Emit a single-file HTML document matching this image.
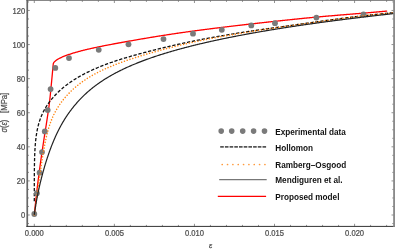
<!DOCTYPE html>
<html><head><meta charset="utf-8"><title>plot</title>
<style>
html,body{margin:0;padding:0;background:#fff;}
body{width:395px;height:250px;overflow:hidden;}
svg{display:block;will-change:transform;font-family:"Liberation Sans",sans-serif;}
.tl text{font-size:8.2px;fill:#505050;stroke:#505050;stroke-width:0.25px;}
.lg text{font-size:8.2px;font-weight:bold;fill:#111;}
</style></head><body>
<svg width="395" height="250" viewBox="0 0 395 250">
<rect width="395" height="250" fill="#fff"/>
<defs><clipPath id="c"><rect x="27.2" y="0.4" width="367.0" height="226.0"/></clipPath></defs>
<g clip-path="url(#c)" fill="none" stroke-linejoin="round">
<path d="M34.30,214.81 L34.37,214.12 L34.44,213.42 L34.51,212.72 L34.58,212.02 L34.65,211.33 L34.72,210.63 L34.79,209.93 L34.86,209.24 L34.93,208.54 L35.00,207.84 L35.08,207.15 L35.15,206.45 L35.22,205.75 L35.30,205.05 L35.37,204.36 L35.44,203.66 L35.52,202.97 L35.60,202.27 L35.67,201.57 L35.75,200.88 L35.82,200.18 L35.90,199.48 L35.98,198.79 L36.05,198.09 L36.13,197.39 L36.21,196.70 L36.29,196.00 L36.37,195.31 L36.45,194.61 L36.52,193.91 L36.60,193.22 L36.68,192.52 L36.76,191.82 L36.84,191.13 L36.93,190.43 L37.01,189.74 L37.09,189.04 L37.17,188.35 L37.26,187.65 L37.34,186.95 L37.42,186.26 L37.51,185.56 L37.59,184.87 L37.68,184.17 L37.76,183.48 L37.85,182.78 L37.94,182.09 L38.02,181.39 L38.11,180.70 L38.20,180.00 L38.29,179.31 L38.38,178.61 L38.47,177.92 L38.55,177.22 L38.64,176.53 L38.73,175.83 L38.82,175.14 L38.91,174.44 L39.00,173.75 L39.10,173.05 L39.19,172.36 L39.28,171.66 L39.37,170.97 L39.46,170.28 L39.56,169.58 L39.65,168.89 L39.74,168.19 L39.84,167.50 L39.93,166.80 L40.03,166.11 L40.12,165.42 L40.22,164.72 L40.31,164.03 L40.41,163.33 L40.51,162.64 L40.60,161.95 L40.70,161.25 L40.80,160.56 L40.90,159.86 L40.99,159.17 L41.09,158.48 L41.19,157.78 L41.29,157.09 L41.39,156.40 L41.49,155.70 L41.59,155.01 L41.69,154.32 L41.79,153.62 L41.89,152.93 L41.99,152.24 L42.10,151.54 L42.20,150.85 L42.30,150.16 L42.41,149.47 L42.51,148.77 L42.61,148.08 L42.72,147.39 L42.82,146.69 L42.93,146.00 L43.03,145.31 L43.14,144.62 L43.24,143.92 L43.35,143.23 L43.46,142.54 L43.56,141.85 L43.67,141.15 L43.77,140.46 L43.88,139.77 L43.99,139.08 L44.09,138.38 L44.20,137.69 L44.31,137.00 L44.41,136.31 L44.52,135.61 L44.63,134.92 L44.74,134.23 L44.85,133.54 L44.96,132.85 L45.07,132.15 L45.18,131.46 L45.29,130.77 L45.40,130.08 L45.51,129.39 L45.62,128.69 L45.73,128.00 L45.84,127.31 L45.95,126.62 L46.06,125.93 L46.17,125.23 L46.28,124.54 L46.38,123.85 L46.49,123.16 L46.60,122.47 L46.70,121.77 L46.81,121.08 L46.91,120.39 L47.02,119.69 L47.12,119.00 L47.23,118.31 L47.33,117.62 L47.44,116.92 L47.54,116.23 L47.65,115.54 L47.75,114.85 L47.86,114.15 L47.96,113.46 L48.07,112.77 L48.17,112.08 L48.27,111.38 L48.37,110.69 L48.48,110.00 L48.58,109.30 L48.68,108.61 L48.77,107.92 L48.87,107.22 L48.96,106.53 L49.06,105.83 L49.15,105.14 L49.24,104.44 L49.33,103.75 L49.41,103.05 L49.50,102.36 L49.58,101.66 L49.66,100.97 L49.74,100.27 L49.82,99.57 L49.89,98.88 L49.97,98.18 L50.04,97.48 L50.12,96.79 L50.19,96.09 L50.26,95.39 L50.33,94.70 L50.40,94.00 L50.47,93.30 L50.53,92.60 L50.60,91.91 L50.67,91.21 L50.74,90.51 L50.80,89.82 L50.87,89.12 L50.94,88.42 L51.00,87.72 L51.07,87.03 L51.14,86.33 L51.21,85.63 L51.27,84.93 L51.34,84.24 L51.41,83.54 L51.48,82.84 L51.54,82.14 L51.61,81.45 L51.68,80.75 L51.75,80.05 L51.81,79.36 L51.88,78.66 L51.95,77.96 L52.01,77.26 L52.08,76.57 L52.14,75.87 L52.21,75.17 L52.28,74.47 L52.34,73.78 L52.41,73.08 L52.47,72.38 L52.53,71.68 L52.60,70.98 L52.66,70.29 L52.73,69.59 L52.79,68.89 L52.86,68.19 L52.92,67.50 L52.99,66.80 L53.05,66.10 L53.12,65.40 L53.18,64.71 L53.25,64.01 L53.41,63.33 L53.73,62.71 L54.14,62.14 L54.61,61.63 L55.13,61.15 L55.67,60.70 L56.23,60.28 L56.80,59.89 L57.40,59.51 L58.00,59.15 L58.61,58.80 L59.22,58.47 L59.85,58.15 L60.48,57.84 L61.11,57.54 L61.75,57.25 L62.39,56.97 L63.03,56.69 L63.68,56.43 L64.33,56.16 L64.98,55.91 L65.63,55.66 L66.29,55.41 L66.95,55.17 L67.61,54.94 L68.27,54.71 L68.93,54.48 L69.60,54.26 L70.26,54.04 L70.93,53.82 L71.60,53.61 L72.26,53.40 L72.93,53.19 L73.60,52.99 L74.28,52.79 L74.95,52.59 L75.62,52.40 L76.29,52.20 L76.97,52.01 L77.64,51.83 L78.32,51.64 L79.00,51.46 L79.67,51.28 L80.35,51.10 L81.03,50.92 L81.71,50.74 L82.38,50.57 L83.06,50.40 L83.74,50.23 L84.42,50.06 L85.10,49.89 L85.79,49.73 L86.47,49.57 L87.15,49.40 L87.83,49.24 L88.51,49.08 L89.20,48.93 L89.88,48.77 L90.56,48.62 L91.24,48.46 L91.93,48.31 L92.61,48.16 L93.30,48.01 L93.98,47.86 L94.67,47.71 L95.35,47.56 L96.04,47.42 L96.72,47.27 L97.41,47.13 L98.09,46.98 L98.78,46.84 L99.46,46.70 L100.15,46.56 L100.84,46.42 L101.52,46.28 L102.21,46.14 L102.90,46.00 L103.58,45.87 L104.27,45.73 L104.96,45.59 L105.65,45.46 L106.33,45.32 L107.02,45.19 L107.71,45.06 L108.40,44.93 L109.09,44.79 L109.77,44.66 L110.46,44.53 L111.15,44.40 L111.84,44.27 L112.53,44.14 L113.22,44.01 L113.90,43.88 L114.59,43.75 L115.28,43.63 L115.97,43.50 L116.66,43.37 L117.35,43.24 L118.04,43.12 L118.73,42.99 L119.42,42.87 L120.11,42.74 L120.79,42.61 L121.48,42.49 L122.17,42.37 L122.86,42.24 L123.55,42.12 L124.24,41.99 L124.93,41.87 L125.62,41.75 L126.31,41.62 L127.00,41.50 L127.69,41.38 L128.38,41.26 L129.07,41.13 L129.76,41.01 L130.45,40.89 L131.14,40.77 L131.83,40.65 L132.52,40.53 L133.21,40.41 L133.90,40.29 L134.59,40.16 L135.28,40.04 L135.97,39.93 L136.66,39.81 L137.35,39.69 L138.04,39.57 L138.73,39.45 L139.42,39.33 L140.11,39.21 L140.80,39.09 L141.49,38.97 L142.19,38.86 L142.88,38.74 L143.57,38.62 L144.26,38.51 L144.95,38.39 L145.64,38.27 L146.33,38.16 L147.02,38.04 L147.71,37.92 L148.40,37.81 L149.09,37.69 L149.79,37.58 L150.48,37.47 L151.17,37.35 L151.86,37.24 L152.55,37.12 L153.24,37.01 L153.93,36.90 L154.62,36.78 L155.32,36.67 L156.01,36.56 L156.70,36.45 L157.39,36.34 L158.08,36.23 L158.77,36.12 L159.47,36.01 L160.16,35.90 L160.85,35.79 L161.54,35.68 L162.23,35.57 L162.93,35.46 L163.62,35.35 L164.31,35.24 L165.00,35.13 L165.70,35.03 L166.39,34.92 L167.08,34.81 L167.77,34.71 L168.47,34.60 L169.16,34.50 L169.85,34.39 L170.54,34.29 L171.24,34.18 L171.93,34.08 L172.62,33.97 L173.31,33.87 L174.01,33.77 L174.70,33.67 L175.39,33.56 L176.09,33.46 L176.78,33.36 L177.47,33.26 L178.17,33.16 L178.86,33.06 L179.55,32.96 L180.25,32.86 L180.94,32.76 L181.63,32.66 L182.33,32.56 L183.02,32.46 L183.71,32.36 L184.41,32.27 L185.10,32.17 L185.80,32.07 L186.49,31.97 L187.18,31.88 L187.88,31.78 L188.57,31.69 L189.27,31.59 L189.96,31.49 L190.65,31.40 L191.35,31.30 L192.04,31.21 L192.74,31.12 L193.43,31.02 L194.12,30.93 L194.82,30.83 L195.51,30.74 L196.21,30.65 L196.90,30.56 L197.60,30.46 L198.29,30.37 L198.99,30.28 L199.68,30.19 L200.38,30.10 L201.07,30.01 L201.76,29.92 L202.46,29.83 L203.15,29.74 L203.85,29.65 L204.54,29.56 L205.24,29.47 L205.93,29.38 L206.63,29.29 L207.32,29.20 L208.02,29.11 L208.71,29.02 L209.41,28.93 L210.10,28.85 L210.80,28.76 L211.49,28.67 L212.19,28.58 L212.88,28.49 L213.58,28.41 L214.27,28.32 L214.97,28.23 L215.66,28.15 L216.36,28.06 L217.05,27.98 L217.75,27.89 L218.45,27.80 L219.14,27.72 L219.84,27.63 L220.53,27.55 L221.23,27.46 L221.92,27.38 L222.62,27.29 L223.31,27.21 L224.01,27.12 L224.70,27.04 L225.40,26.96 L226.10,26.87 L226.79,26.79 L227.49,26.70 L228.18,26.62 L228.88,26.54 L229.57,26.45 L230.27,26.37 L230.96,26.29 L231.66,26.21 L232.36,26.12 L233.05,26.04 L233.75,25.96 L234.44,25.88 L235.14,25.79 L235.83,25.71 L236.53,25.63 L237.23,25.55 L237.92,25.47 L238.62,25.39 L239.31,25.31 L240.01,25.23 L240.71,25.14 L241.40,25.06 L242.10,24.98 L242.79,24.90 L243.49,24.82 L244.19,24.74 L244.88,24.66 L245.58,24.58 L246.27,24.50 L246.97,24.42 L247.67,24.34 L248.36,24.26 L249.06,24.18 L249.75,24.11 L250.45,24.03 L251.15,23.95 L251.84,23.87 L252.54,23.79 L253.23,23.71 L253.93,23.63 L254.63,23.55 L255.32,23.48 L256.02,23.40 L256.72,23.32 L257.41,23.24 L258.11,23.16 L258.80,23.09 L259.50,23.01 L260.20,22.93 L260.89,22.86 L261.59,22.78 L262.29,22.70 L262.98,22.62 L263.68,22.55 L264.38,22.47 L265.07,22.39 L265.77,22.32 L266.46,22.24 L267.16,22.16 L267.86,22.09 L268.55,22.01 L269.25,21.94 L269.95,21.86 L270.64,21.79 L271.34,21.71 L272.04,21.63 L272.73,21.56 L273.43,21.48 L274.13,21.41 L274.82,21.33 L275.52,21.26 L276.22,21.18 L276.91,21.11 L277.61,21.03 L278.31,20.96 L279.00,20.88 L279.70,20.81 L280.39,20.74 L281.09,20.66 L281.79,20.59 L282.48,20.51 L283.18,20.44 L283.88,20.37 L284.58,20.29 L285.27,20.22 L285.97,20.15 L286.67,20.07 L287.36,20.00 L288.06,19.93 L288.76,19.85 L289.45,19.78 L290.15,19.71 L290.85,19.63 L291.54,19.56 L292.24,19.49 L292.94,19.42 L293.63,19.34 L294.33,19.27 L295.03,19.20 L295.72,19.13 L296.42,19.05 L297.12,18.98 L297.81,18.91 L298.51,18.84 L299.21,18.77 L299.90,18.69 L300.60,18.62 L301.30,18.55 L302.00,18.48 L302.69,18.41 L303.39,18.34 L304.09,18.27 L304.78,18.20 L305.48,18.13 L306.18,18.07 L306.88,18.00 L307.57,17.93 L308.27,17.86 L308.97,17.79 L309.67,17.73 L310.36,17.66 L311.06,17.59 L311.76,17.53 L312.46,17.46 L313.15,17.40 L313.85,17.33 L314.55,17.27 L315.25,17.20 L315.94,17.14 L316.64,17.08 L317.34,17.01 L318.04,16.95 L318.73,16.88 L319.43,16.82 L320.13,16.76 L320.83,16.70 L321.52,16.63 L322.22,16.57 L322.92,16.51 L323.62,16.45 L324.32,16.39 L325.01,16.33 L325.71,16.27 L326.41,16.21 L327.11,16.14 L327.81,16.08 L328.50,16.02 L329.20,15.96 L329.90,15.90 L330.60,15.84 L331.30,15.79 L331.99,15.73 L332.69,15.67 L333.39,15.61 L334.09,15.55 L334.79,15.49 L335.48,15.43 L336.18,15.37 L336.88,15.31 L337.58,15.26 L338.28,15.20 L338.98,15.14 L339.67,15.08 L340.37,15.02 L341.07,14.97 L341.77,14.91 L342.47,14.85 L343.16,14.79 L343.86,14.74 L344.56,14.68 L345.26,14.62 L345.96,14.56 L346.66,14.51 L347.35,14.45 L348.05,14.39 L348.75,14.33 L349.45,14.28 L350.15,14.22 L350.85,14.16 L351.54,14.11 L352.24,14.05 L352.94,13.99 L353.64,13.93 L354.34,13.88 L355.04,13.82 L355.73,13.76 L356.43,13.71 L357.13,13.65 L357.83,13.59 L358.53,13.53 L359.22,13.48 L359.92,13.42 L360.62,13.36 L361.32,13.30 L362.02,13.25 L362.72,13.19 L363.41,13.13 L364.11,13.07 L364.81,13.01 L365.51,12.96 L366.21,12.90 L366.90,12.84 L367.60,12.78 L368.30,12.72 L369.00,12.66 L369.70,12.61 L370.40,12.55 L371.09,12.49 L371.79,12.43 L372.49,12.37 L373.19,12.31 L373.89,12.25 L374.58,12.19 L375.28,12.13 L375.98,12.07 L376.68,12.01 L377.38,11.95 L378.07,11.89 L378.77,11.83 L379.47,11.77 L380.17,11.71 L380.87,11.65 L381.56,11.58 L382.26,11.52 L382.96,11.46 L383.66,11.40 L384.35,11.33 L385.05,11.27 L385.75,11.21 L386.45,11.15 L387.15,11.08" stroke="#f00" stroke-width="1.3"/>
<path d="M34.30,201.21 L34.30,200.51 L34.30,199.81 L34.30,199.11 L34.30,198.41 L34.30,197.71 L34.30,197.01 L34.30,196.30 L34.30,195.60 L34.30,194.90 L34.30,194.20 L34.30,193.50 L34.30,192.80 L34.30,192.10 L34.30,191.40 L34.30,190.70 L34.30,190.00 L34.30,189.30 L34.30,188.60 L34.30,187.90 L34.31,187.20 L34.31,186.50 L34.31,185.80 L34.31,185.10 L34.31,184.40 L34.31,183.69 L34.31,182.99 L34.31,182.29 L34.31,181.59 L34.32,180.89 L34.32,180.19 L34.32,179.49 L34.32,178.79 L34.33,178.09 L34.33,177.39 L34.33,176.69 L34.34,175.99 L34.34,175.29 L34.34,174.59 L34.35,173.89 L34.35,173.19 L34.36,172.49 L34.36,171.79 L34.37,171.09 L34.38,170.38 L34.38,169.68 L34.39,168.98 L34.40,168.28 L34.41,167.58 L34.42,166.88 L34.43,166.18 L34.44,165.48 L34.45,164.78 L34.46,164.08 L34.47,163.38 L34.49,162.68 L34.50,161.98 L34.52,161.28 L34.53,160.58 L34.55,159.88 L34.57,159.18 L34.59,158.48 L34.61,157.78 L34.63,157.08 L34.65,156.38 L34.68,155.68 L34.71,154.98 L34.73,154.28 L34.76,153.58 L34.79,152.88 L34.82,152.18 L34.86,151.48 L34.89,150.78 L34.93,150.08 L34.97,149.38 L35.01,148.68 L35.06,147.98 L35.10,147.28 L35.15,146.58 L35.20,145.88 L35.25,145.19 L35.31,144.49 L35.36,143.79 L35.43,143.09 L35.49,142.39 L35.56,141.70 L35.62,141.00 L35.70,140.30 L35.77,139.61 L35.85,138.91 L35.94,138.21 L36.02,137.52 L36.11,136.82 L36.21,136.13 L36.31,135.44 L36.41,134.74 L36.51,134.05 L36.63,133.36 L36.74,132.67 L36.86,131.98 L36.99,131.29 L37.12,130.60 L37.25,129.91 L37.39,129.23 L37.54,128.54 L37.69,127.86 L37.85,127.18 L38.01,126.49 L38.18,125.81 L38.35,125.14 L38.53,124.46 L38.72,123.78 L38.91,123.11 L39.11,122.44 L39.32,121.77 L39.53,121.10 L39.75,120.44 L39.98,119.77 L40.21,119.11 L40.45,118.45 L40.70,117.80 L40.95,117.15 L41.21,116.50 L41.48,115.85 L41.76,115.20 L42.04,114.56 L42.33,113.92 L42.62,113.29 L42.93,112.66 L43.23,112.03 L43.55,111.40 L43.87,110.78 L44.20,110.16 L44.54,109.55 L44.88,108.94 L45.23,108.33 L45.59,107.73 L45.95,107.13 L46.32,106.53 L46.70,105.94 L47.08,105.35 L47.46,104.77 L47.86,104.19 L48.26,103.62 L48.66,103.04 L49.07,102.48 L49.49,101.91 L49.91,101.35 L50.34,100.80 L50.77,100.25 L51.20,99.70 L51.65,99.15 L52.09,98.62 L52.55,98.08 L53.00,97.55 L53.46,97.02 L53.93,96.50 L54.40,95.98 L54.88,95.47 L55.36,94.96 L55.84,94.45 L56.33,93.95 L56.82,93.45 L57.32,92.95 L57.82,92.46 L58.32,91.98 L58.83,91.50 L59.34,91.02 L59.86,90.54 L60.38,90.07 L60.90,89.61 L61.43,89.14 L61.96,88.69 L62.49,88.23 L63.03,87.78 L63.57,87.34 L64.11,86.89 L64.66,86.46 L65.21,86.02 L65.76,85.59 L66.31,85.16 L66.87,84.74 L67.43,84.32 L68.00,83.90 L68.56,83.49 L69.13,83.08 L69.70,82.68 L70.28,82.28 L70.86,81.88 L71.44,81.49 L72.02,81.10 L72.60,80.71 L73.19,80.33 L73.78,79.95 L74.37,79.57 L74.96,79.20 L75.56,78.83 L76.15,78.46 L76.75,78.10 L77.35,77.74 L77.96,77.38 L78.56,77.03 L79.17,76.68 L79.78,76.33 L80.39,75.99 L81.00,75.65 L81.61,75.31 L82.23,74.98 L82.85,74.64 L83.46,74.32 L84.08,73.99 L84.71,73.67 L85.33,73.35 L85.95,73.03 L86.58,72.71 L87.21,72.40 L87.83,72.09 L88.46,71.79 L89.10,71.48 L89.73,71.18 L90.36,70.88 L91.00,70.59 L91.63,70.29 L92.27,70.00 L92.91,69.71 L93.55,69.43 L94.19,69.14 L94.83,68.86 L95.47,68.58 L96.11,68.30 L96.76,68.03 L97.40,67.76 L98.05,67.49 L98.70,67.22 L99.35,66.95 L99.99,66.69 L100.64,66.43 L101.30,66.17 L101.95,65.91 L102.60,65.65 L103.25,65.40 L103.91,65.15 L104.56,64.90 L105.22,64.65 L105.87,64.40 L106.53,64.16 L107.18,63.92 L107.84,63.68 L108.50,63.44 L109.16,63.20 L109.82,62.96 L110.48,62.73 L111.14,62.50 L111.80,62.27 L112.46,62.04 L113.13,61.81 L113.79,61.59 L114.45,61.36 L115.12,61.14 L115.78,60.92 L116.45,60.70 L117.11,60.48 L117.78,60.26 L118.45,60.05 L119.11,59.83 L119.78,59.62 L120.45,59.41 L121.12,59.20 L121.79,58.99 L122.45,58.78 L123.12,58.57 L123.79,58.37 L124.46,58.16 L125.13,57.96 L125.81,57.76 L126.48,57.56 L127.15,57.36 L127.82,57.16 L128.49,56.96 L129.16,56.76 L129.84,56.57 L130.51,56.37 L131.18,56.18 L131.86,55.99 L132.53,55.79 L133.20,55.60 L133.88,55.41 L134.55,55.22 L135.23,55.03 L135.90,54.84 L136.58,54.66 L137.25,54.47 L137.93,54.28 L138.60,54.10 L139.28,53.91 L139.95,53.73 L140.63,53.55 L141.31,53.37 L141.98,53.18 L142.66,53.00 L143.34,52.82 L144.01,52.64 L144.69,52.46 L145.37,52.28 L146.05,52.11 L146.72,51.93 L147.40,51.75 L148.08,51.57 L148.76,51.40 L149.44,51.22 L150.11,51.05 L150.79,50.87 L151.47,50.70 L152.15,50.53 L152.83,50.35 L153.51,50.18 L154.19,50.01 L154.87,49.84 L155.55,49.67 L156.23,49.50 L156.90,49.33 L157.58,49.16 L158.26,48.99 L158.94,48.82 L159.62,48.66 L160.31,48.49 L160.99,48.32 L161.67,48.16 L162.35,47.99 L163.03,47.83 L163.71,47.66 L164.39,47.50 L165.07,47.33 L165.75,47.17 L166.43,47.01 L167.12,46.85 L167.80,46.69 L168.48,46.53 L169.16,46.37 L169.84,46.21 L170.53,46.05 L171.21,45.89 L171.89,45.73 L172.57,45.57 L173.26,45.42 L173.94,45.26 L174.62,45.10 L175.30,44.95 L175.99,44.80 L176.67,44.64 L177.36,44.49 L178.04,44.34 L178.72,44.18 L179.41,44.03 L180.09,43.88 L180.78,43.73 L181.46,43.58 L182.14,43.43 L182.83,43.28 L183.51,43.14 L184.20,42.99 L184.88,42.84 L185.57,42.70 L186.25,42.55 L186.94,42.41 L187.62,42.26 L188.31,42.12 L189.00,41.98 L189.68,41.83 L190.37,41.69 L191.05,41.55 L191.74,41.41 L192.43,41.27 L193.11,41.13 L193.80,40.99 L194.49,40.85 L195.17,40.72 L195.86,40.58 L196.55,40.44 L197.24,40.31 L197.92,40.17 L198.61,40.04 L199.30,39.90 L199.99,39.77 L200.67,39.63 L201.36,39.50 L202.05,39.37 L202.74,39.24 L203.43,39.11 L204.11,38.98 L204.80,38.85 L205.49,38.72 L206.18,38.59 L206.87,38.46 L207.56,38.33 L208.25,38.20 L208.93,38.08 L209.62,37.95 L210.31,37.83 L211.00,37.70 L211.69,37.57 L212.38,37.45 L213.07,37.33 L213.76,37.20 L214.45,37.08 L215.14,36.96 L215.83,36.83 L216.52,36.71 L217.21,36.59 L217.90,36.47 L218.59,36.35 L219.28,36.23 L219.97,36.11 L220.66,35.99 L221.35,35.87 L222.04,35.75 L222.73,35.63 L223.42,35.52 L224.11,35.40 L224.80,35.28 L225.49,35.16 L226.18,35.05 L226.87,34.93 L227.57,34.82 L228.26,34.70 L228.95,34.59 L229.64,34.47 L230.33,34.36 L231.02,34.24 L231.71,34.13 L232.40,34.02 L233.09,33.90 L233.79,33.79 L234.48,33.68 L235.17,33.57 L235.86,33.46 L236.55,33.35 L237.24,33.23 L237.94,33.12 L238.63,33.01 L239.32,32.90 L240.01,32.79 L240.70,32.68 L241.40,32.58 L242.09,32.47 L242.78,32.36 L243.47,32.25 L244.16,32.14 L244.86,32.03 L245.55,31.93 L246.24,31.82 L246.93,31.71 L247.63,31.61 L248.32,31.50 L249.01,31.40 L249.70,31.29 L250.40,31.18 L251.09,31.08 L251.78,30.98 L252.47,30.87 L253.17,30.77 L253.86,30.66 L254.55,30.56 L255.24,30.46 L255.94,30.35 L256.63,30.25 L257.32,30.15 L258.02,30.04 L258.71,29.94 L259.40,29.84 L260.10,29.74 L260.79,29.64 L261.48,29.54 L262.18,29.44 L262.87,29.34 L263.56,29.24 L264.26,29.14 L264.95,29.04 L265.64,28.94 L266.34,28.84 L267.03,28.74 L267.72,28.64 L268.42,28.54 L269.11,28.44 L269.80,28.34 L270.50,28.25 L271.19,28.15 L271.88,28.05 L272.58,27.95 L273.27,27.86 L273.97,27.76 L274.66,27.66 L275.35,27.57 L276.05,27.47 L276.74,27.37 L277.44,27.28 L278.13,27.18 L278.82,27.09 L279.52,26.99 L280.21,26.90 L280.91,26.80 L281.60,26.71 L282.29,26.61 L282.99,26.52 L283.68,26.42 L284.38,26.33 L285.07,26.23 L285.76,26.13 L286.46,26.04 L287.15,25.94 L287.85,25.85 L288.54,25.75 L289.23,25.65 L289.93,25.56 L290.62,25.46 L291.31,25.36 L292.01,25.27 L292.70,25.17 L293.40,25.07 L294.09,24.97 L294.78,24.88 L295.48,24.78 L296.17,24.68 L296.86,24.59 L297.56,24.49 L298.25,24.39 L298.95,24.29 L299.64,24.19 L300.33,24.10 L301.03,24.00 L301.72,23.90 L302.41,23.80 L303.11,23.71 L303.80,23.61 L304.50,23.51 L305.19,23.41 L305.88,23.32 L306.58,23.22 L307.27,23.12 L307.96,23.02 L308.66,22.93 L309.35,22.83 L310.05,22.73 L310.74,22.63 L311.43,22.54 L312.13,22.44 L312.82,22.34 L313.51,22.24 L314.21,22.15 L314.90,22.05 L315.60,21.95 L316.29,21.86 L316.98,21.76 L317.68,21.66 L318.37,21.57 L319.06,21.47 L319.76,21.37 L320.45,21.28 L321.15,21.18 L321.84,21.08 L322.53,20.99 L323.23,20.89 L323.92,20.80 L324.62,20.70 L325.31,20.61 L326.00,20.51 L326.70,20.42 L327.39,20.32 L328.09,20.23 L328.78,20.13 L329.47,20.04 L330.17,19.95 L330.86,19.85 L331.56,19.76 L332.25,19.66 L332.95,19.57 L333.64,19.48 L334.33,19.39 L335.03,19.29 L335.72,19.20 L336.42,19.11 L337.11,19.02 L337.81,18.93 L338.50,18.83 L339.20,18.74 L339.89,18.65 L340.59,18.56 L341.28,18.47 L341.98,18.38 L342.67,18.29 L343.36,18.20 L344.06,18.11 L344.75,18.02 L345.45,17.94 L346.14,17.85 L346.84,17.76 L347.53,17.67 L348.23,17.59 L348.92,17.50 L349.62,17.41 L350.32,17.33 L351.01,17.24 L351.71,17.16 L352.40,17.07 L353.10,16.99 L353.79,16.90 L354.49,16.82 L355.18,16.73 L355.88,16.65 L356.57,16.57 L357.27,16.49 L357.97,16.40 L358.66,16.32 L359.36,16.24 L360.05,16.16 L360.75,16.08 L361.45,16.00 L362.14,15.92 L362.84,15.84 L363.53,15.77 L364.23,15.69 L364.93,15.61 L365.62,15.53 L366.32,15.46 L367.01,15.38 L367.71,15.30 L368.41,15.23 L369.10,15.16 L369.80,15.08 L370.50,15.01 L371.19,14.93 L371.89,14.86 L372.59,14.79 L373.28,14.71 L373.98,14.64 L374.68,14.57 L375.37,14.50 L376.07,14.42 L376.77,14.35 L377.47,14.28 L378.16,14.21 L378.86,14.13 L379.56,14.06 L380.25,13.99 L380.95,13.92 L381.65,13.85 L382.34,13.78 L383.04,13.70 L383.74,13.63 L384.43,13.56 L385.13,13.49 L385.83,13.42 L386.52,13.35 L387.22,13.28 L387.92,13.21 L388.62,13.14 L389.31,13.07 L390.01,13.00 L390.71,12.93 L391.40,12.86 L392.10,12.79 L392.80,12.72 L393.49,12.65 L394.19,12.58" stroke="#111" stroke-width="1.3" stroke-dasharray="3.3 1.7"/>
<g fill="#7a7a7a" stroke="none"><circle cx="34.3" cy="214" r="2.9"/><circle cx="36.9" cy="193.2" r="2.9"/><circle cx="39.6" cy="172.7" r="2.9"/><circle cx="42" cy="152.1" r="2.9"/><circle cx="44.8" cy="131.4" r="2.9"/><circle cx="47.7" cy="110.1" r="2.9"/><circle cx="50.6" cy="89.1" r="2.9"/><circle cx="55.3" cy="67.9" r="2.9"/><circle cx="69" cy="58.1" r="2.9"/><circle cx="98.75" cy="49.8" r="2.9"/><circle cx="128.5" cy="44.3" r="2.9"/><circle cx="163.5" cy="39.1" r="2.9"/><circle cx="193" cy="33.7" r="2.9"/><circle cx="221.8" cy="29.8" r="2.9"/><circle cx="251.3" cy="25.4" r="2.9"/><circle cx="275" cy="23.2" r="2.9"/><circle cx="316.4" cy="17.6" r="2.9"/><circle cx="363.5" cy="14.3" r="2.9"/></g>
<path d="M34.30,214.80 L34.40,214.11 L34.49,213.42 L34.59,212.72 L34.69,212.03 L34.78,211.33 L34.88,210.64 L34.98,209.95 L35.07,209.25 L35.17,208.56 L35.27,207.87 L35.36,207.17 L35.46,206.48 L35.56,205.78 L35.65,205.09 L35.75,204.40 L35.85,203.70 L35.94,203.01 L36.04,202.31 L36.14,201.62 L36.23,200.93 L36.33,200.23 L36.43,199.54 L36.52,198.85 L36.62,198.15 L36.72,197.46 L36.82,196.76 L36.91,196.07 L37.01,195.38 L37.11,194.68 L37.20,193.99 L37.30,193.30 L37.40,192.60 L37.49,191.91 L37.59,191.21 L37.69,190.52 L37.78,189.83 L37.88,189.13 L37.98,188.44 L38.07,187.75 L38.17,187.05 L38.27,186.36 L38.37,185.66 L38.46,184.97 L38.56,184.28 L38.66,183.58 L38.75,182.89 L38.85,182.20 L38.95,181.50 L39.05,180.81 L39.15,180.11 L39.24,179.42 L39.34,178.73 L39.44,178.03 L39.54,177.34 L39.64,176.65 L39.73,175.95 L39.83,175.26 L39.93,174.57 L40.03,173.87 L40.13,173.18 L40.23,172.49 L40.33,171.79 L40.43,171.10 L40.53,170.41 L40.63,169.71 L40.73,169.02 L40.83,168.33 L40.93,167.63 L41.04,166.94 L41.14,166.25 L41.24,165.55 L41.34,164.86 L41.45,164.17 L41.55,163.48 L41.66,162.78 L41.76,162.09 L41.87,161.40 L41.97,160.70 L42.08,160.01 L42.19,159.32 L42.30,158.63 L42.41,157.94 L42.52,157.24 L42.63,156.55 L42.74,155.86 L42.85,155.17 L42.96,154.48 L43.08,153.79 L43.19,153.10 L43.31,152.41 L43.43,151.71 L43.54,151.02 L43.66,150.33 L43.78,149.64 L43.91,148.95 L44.03,148.26 L44.15,147.58 L44.28,146.89 L44.41,146.20 L44.54,145.51 L44.67,144.82 L44.80,144.13 L44.94,143.45 L45.07,142.76 L45.21,142.07 L45.35,141.39 L45.50,140.70 L45.64,140.02 L45.79,139.33 L45.94,138.65 L46.09,137.96 L46.25,137.28 L46.40,136.60 L46.56,135.91 L46.73,135.23 L46.89,134.55 L47.06,133.87 L47.23,133.19 L47.41,132.52 L47.59,131.84 L47.77,131.16 L47.96,130.49 L48.14,129.81 L48.34,129.14 L48.54,128.47 L48.74,127.80 L48.94,127.13 L49.15,126.46 L49.37,125.79 L49.58,125.12 L49.81,124.46 L50.03,123.80 L50.27,123.14 L50.50,122.48 L50.75,121.82 L50.99,121.17 L51.25,120.51 L51.50,119.86 L51.77,119.21 L52.04,118.56 L52.31,117.92 L52.59,117.28 L52.87,116.64 L53.17,116.00 L53.46,115.37 L53.76,114.73 L54.07,114.10 L54.38,113.48 L54.70,112.85 L55.03,112.23 L55.36,111.61 L55.69,111.00 L56.03,110.39 L56.38,109.78 L56.73,109.17 L57.09,108.57 L57.45,107.97 L57.82,107.38 L58.20,106.78 L58.58,106.20 L58.96,105.61 L59.35,105.03 L59.75,104.45 L60.15,103.87 L60.55,103.30 L60.96,102.73 L61.37,102.17 L61.79,101.61 L62.22,101.05 L62.65,100.50 L63.08,99.95 L63.52,99.40 L63.96,98.86 L64.41,98.32 L64.86,97.78 L65.31,97.25 L65.77,96.72 L66.24,96.19 L66.70,95.67 L67.17,95.15 L67.65,94.64 L68.13,94.13 L68.61,93.62 L69.10,93.12 L69.59,92.62 L70.09,92.12 L70.58,91.63 L71.09,91.14 L71.59,90.66 L72.10,90.18 L72.61,89.70 L73.13,89.22 L73.65,88.75 L74.17,88.29 L74.70,87.83 L75.23,87.37 L75.76,86.91 L76.30,86.46 L76.83,86.01 L77.38,85.57 L77.92,85.13 L78.47,84.69 L79.02,84.26 L79.58,83.83 L80.13,83.41 L80.69,82.99 L81.26,82.57 L81.82,82.16 L82.39,81.75 L82.96,81.34 L83.53,80.94 L84.11,80.54 L84.69,80.15 L85.27,79.76 L85.85,79.37 L86.44,78.98 L87.03,78.60 L87.62,78.23 L88.21,77.85 L88.81,77.48 L89.40,77.12 L90.00,76.75 L90.60,76.40 L91.21,76.04 L91.81,75.69 L92.42,75.34 L93.03,74.99 L93.64,74.65 L94.25,74.31 L94.87,73.97 L95.48,73.64 L96.10,73.31 L96.72,72.98 L97.34,72.66 L97.96,72.34 L98.59,72.02 L99.21,71.70 L99.84,71.39 L100.47,71.08 L101.10,70.77 L101.73,70.47 L102.36,70.17 L102.99,69.87 L103.63,69.57 L104.27,69.28 L104.90,68.99 L105.54,68.70 L106.18,68.41 L106.82,68.13 L107.46,67.85 L108.11,67.57 L108.75,67.29 L109.39,67.02 L110.04,66.75 L110.69,66.48 L111.33,66.21 L111.98,65.94 L112.63,65.68 L113.28,65.42 L113.93,65.16 L114.58,64.90 L115.23,64.65 L115.89,64.39 L116.54,64.14 L117.19,63.89 L117.85,63.64 L118.51,63.39 L119.16,63.15 L119.82,62.91 L120.48,62.66 L121.13,62.42 L121.79,62.19 L122.45,61.95 L123.11,61.71 L123.77,61.48 L124.43,61.25 L125.09,61.02 L125.76,60.79 L126.42,60.56 L127.08,60.33 L127.74,60.11 L128.41,59.88 L129.07,59.66 L129.74,59.43 L130.40,59.21 L131.07,58.99 L131.73,58.78 L132.40,58.56 L133.06,58.34 L133.73,58.13 L134.40,57.91 L135.06,57.70 L135.73,57.49 L136.40,57.27 L137.07,57.06 L137.74,56.85 L138.40,56.65 L139.07,56.44 L139.74,56.23 L140.41,56.02 L141.08,55.82 L141.75,55.61 L142.42,55.41 L143.09,55.21 L143.76,55.01 L144.43,54.81 L145.11,54.60 L145.78,54.41 L146.45,54.21 L147.12,54.01 L147.79,53.81 L148.47,53.61 L149.14,53.42 L149.81,53.22 L150.48,53.03 L151.16,52.83 L151.83,52.64 L152.50,52.45 L153.18,52.26 L153.85,52.07 L154.53,51.88 L155.20,51.69 L155.87,51.50 L156.55,51.31 L157.22,51.12 L157.90,50.93 L158.57,50.75 L159.25,50.56 L159.93,50.38 L160.60,50.19 L161.28,50.01 L161.95,49.83 L162.63,49.64 L163.31,49.46 L163.98,49.28 L164.66,49.10 L165.34,48.92 L166.01,48.74 L166.69,48.56 L167.37,48.39 L168.05,48.21 L168.73,48.03 L169.40,47.86 L170.08,47.68 L170.76,47.51 L171.44,47.34 L172.12,47.16 L172.80,46.99 L173.48,46.82 L174.16,46.65 L174.84,46.48 L175.52,46.31 L176.20,46.14 L176.88,45.98 L177.56,45.81 L178.24,45.64 L178.92,45.48 L179.60,45.31 L180.28,45.15 L180.96,44.99 L181.64,44.82 L182.32,44.66 L183.01,44.50 L183.69,44.34 L184.37,44.18 L185.05,44.02 L185.73,43.87 L186.42,43.71 L187.10,43.55 L187.78,43.40 L188.47,43.24 L189.15,43.09 L189.83,42.93 L190.52,42.78 L191.20,42.63 L191.88,42.48 L192.57,42.33 L193.25,42.18 L193.94,42.03 L194.62,41.88 L195.31,41.73 L195.99,41.58 L196.68,41.43 L197.36,41.29 L198.05,41.14 L198.73,41.00 L199.42,40.85 L200.10,40.71 L200.79,40.57 L201.48,40.43 L202.16,40.29 L202.85,40.14 L203.53,40.00 L204.22,39.87 L204.91,39.73 L205.59,39.59 L206.28,39.45 L206.97,39.31 L207.65,39.18 L208.34,39.04 L209.03,38.91 L209.72,38.77 L210.40,38.64 L211.09,38.50 L211.78,38.37 L212.47,38.24 L213.16,38.11 L213.84,37.98 L214.53,37.85 L215.22,37.72 L215.91,37.59 L216.60,37.46 L217.29,37.33 L217.97,37.20 L218.66,37.07 L219.35,36.95 L220.04,36.82 L220.73,36.69 L221.42,36.57 L222.11,36.44 L222.80,36.32 L223.49,36.19 L224.18,36.07 L224.87,35.95 L225.56,35.82 L226.25,35.70 L226.94,35.58 L227.63,35.46 L228.32,35.34 L229.01,35.22 L229.70,35.10 L230.39,34.98 L231.08,34.86 L231.77,34.74 L232.46,34.62 L233.15,34.50 L233.84,34.38 L234.53,34.27 L235.22,34.15 L235.91,34.03 L236.60,33.92 L237.29,33.80 L237.98,33.69 L238.67,33.57 L239.36,33.46 L240.06,33.34 L240.75,33.23 L241.44,33.11 L242.13,33.00 L242.82,32.89 L243.51,32.78 L244.20,32.66 L244.90,32.55 L245.59,32.44 L246.28,32.33 L246.97,32.22 L247.66,32.11 L248.35,32.00 L249.05,31.89 L249.74,31.78 L250.43,31.67 L251.12,31.56 L251.81,31.45 L252.51,31.34 L253.20,31.23 L253.89,31.13 L254.58,31.02 L255.27,30.91 L255.97,30.81 L256.66,30.70 L257.35,30.59 L258.04,30.49 L258.74,30.38 L259.43,30.28 L260.12,30.17 L260.81,30.07 L261.51,29.96 L262.20,29.86 L262.89,29.75 L263.59,29.65 L264.28,29.55 L264.97,29.44 L265.66,29.34 L266.36,29.24 L267.05,29.14 L267.74,29.03 L268.44,28.93 L269.13,28.83 L269.82,28.73 L270.52,28.63 L271.21,28.53 L271.90,28.43 L272.60,28.33 L273.29,28.23 L273.98,28.13 L274.68,28.03 L275.37,27.93 L276.06,27.83 L276.76,27.73 L277.45,27.64 L278.14,27.54 L278.84,27.44 L279.53,27.34 L280.22,27.24 L280.92,27.15 L281.61,27.05 L282.31,26.95 L283.00,26.85 L283.69,26.76 L284.39,26.66 L285.08,26.56 L285.77,26.46 L286.47,26.36 L287.16,26.26 L287.85,26.17 L288.55,26.07 L289.24,25.97 L289.94,25.87 L290.63,25.77 L291.32,25.67 L292.02,25.57 L292.71,25.47 L293.40,25.37 L294.10,25.28 L294.79,25.18 L295.48,25.08 L296.18,24.98 L296.87,24.88 L297.56,24.78 L298.26,24.68 L298.95,24.58 L299.64,24.48 L300.34,24.38 L301.03,24.28 L301.72,24.18 L302.42,24.08 L303.11,23.98 L303.80,23.88 L304.50,23.78 L305.19,23.68 L305.88,23.58 L306.58,23.49 L307.27,23.39 L307.96,23.29 L308.66,23.19 L309.35,23.09 L310.04,22.99 L310.74,22.89 L311.43,22.79 L312.13,22.69 L312.82,22.59 L313.51,22.50 L314.21,22.40 L314.90,22.30 L315.59,22.20 L316.29,22.10 L316.98,22.00 L317.67,21.90 L318.37,21.81 L319.06,21.71 L319.75,21.61 L320.45,21.51 L321.14,21.42 L321.84,21.32 L322.53,21.22 L323.22,21.12 L323.92,21.03 L324.61,20.93 L325.30,20.83 L326.00,20.74 L326.69,20.64 L327.39,20.55 L328.08,20.45 L328.77,20.36 L329.47,20.26 L330.16,20.16 L330.86,20.07 L331.55,19.97 L332.24,19.88 L332.94,19.79 L333.63,19.69 L334.33,19.60 L335.02,19.50 L335.72,19.41 L336.41,19.32 L337.10,19.23 L337.80,19.13 L338.49,19.04 L339.19,18.95 L339.88,18.86 L340.58,18.77 L341.27,18.67 L341.97,18.58 L342.66,18.49 L343.36,18.40 L344.05,18.31 L344.74,18.22 L345.44,18.13 L346.13,18.05 L346.83,17.96 L347.52,17.87 L348.22,17.78 L348.91,17.69 L349.61,17.61 L350.30,17.52 L351.00,17.43 L351.69,17.35 L352.39,17.26 L353.09,17.18 L353.78,17.09 L354.48,17.01 L355.17,16.92 L355.87,16.84 L356.56,16.75 L357.26,16.67 L357.95,16.59 L358.65,16.51 L359.35,16.43 L360.04,16.34 L360.74,16.26 L361.43,16.18 L362.13,16.10 L362.82,16.02 L363.52,15.94 L364.22,15.87 L364.91,15.79 L365.61,15.71 L366.31,15.63 L367.00,15.56 L367.70,15.48 L368.39,15.41 L369.09,15.33 L369.79,15.26 L370.48,15.18 L371.18,15.11 L371.88,15.03 L372.57,14.96 L373.27,14.89 L373.97,14.81 L374.66,14.74 L375.36,14.67 L376.06,14.59 L376.75,14.52 L377.45,14.45 L378.15,14.38 L378.84,14.30 L379.54,14.23 L380.24,14.16 L380.93,14.09 L381.63,14.02 L382.33,13.94 L383.03,13.87 L383.72,13.80 L384.42,13.73 L385.12,13.66 L385.81,13.59 L386.51,13.52 L387.21,13.44 L387.90,13.37 L388.60,13.30 L389.30,13.23 L389.99,13.16 L390.69,13.09 L391.39,13.02 L392.09,12.95 L392.78,12.88 L393.48,12.81 L394.18,12.74" stroke="#ff8410" stroke-width="1.55" stroke-dasharray="0.01 2.92" stroke-linecap="round"/>
<path d="M34.30,214.80 L34.39,214.11 L34.49,213.41 L34.59,212.72 L34.69,212.02 L34.79,211.33 L34.89,210.64 L35.00,209.95 L35.10,209.25 L35.21,208.56 L35.32,207.87 L35.43,207.18 L35.54,206.49 L35.65,205.79 L35.76,205.10 L35.88,204.41 L36.00,203.72 L36.12,203.03 L36.24,202.34 L36.36,201.65 L36.48,200.96 L36.61,200.27 L36.73,199.58 L36.86,198.89 L36.99,198.21 L37.12,197.52 L37.25,196.83 L37.39,196.14 L37.52,195.45 L37.66,194.77 L37.79,194.08 L37.93,193.39 L38.07,192.71 L38.22,192.02 L38.36,191.34 L38.51,190.65 L38.65,189.97 L38.80,189.28 L38.95,188.60 L39.10,187.91 L39.25,187.23 L39.41,186.55 L39.56,185.86 L39.72,185.18 L39.88,184.50 L40.04,183.82 L40.20,183.13 L40.36,182.45 L40.53,181.77 L40.69,181.09 L40.86,180.41 L41.03,179.73 L41.20,179.05 L41.37,178.37 L41.54,177.69 L41.72,177.01 L41.89,176.34 L42.07,175.66 L42.25,174.98 L42.43,174.30 L42.61,173.63 L42.79,172.95 L42.98,172.28 L43.16,171.60 L43.35,170.93 L43.54,170.25 L43.73,169.58 L43.92,168.90 L44.11,168.23 L44.31,167.56 L44.51,166.88 L44.70,166.21 L44.90,165.54 L45.11,164.87 L45.31,164.20 L45.51,163.53 L45.72,162.86 L45.93,162.19 L46.13,161.52 L46.35,160.85 L46.56,160.19 L46.77,159.52 L46.99,158.85 L47.20,158.19 L47.42,157.52 L47.64,156.86 L47.87,156.19 L48.09,155.53 L48.32,154.87 L48.54,154.20 L48.77,153.54 L49.01,152.88 L49.24,152.22 L49.47,151.56 L49.71,150.90 L49.95,150.24 L50.19,149.58 L50.43,148.93 L50.68,148.27 L50.92,147.62 L51.17,146.96 L51.42,146.31 L51.68,145.65 L51.93,145.00 L52.19,144.35 L52.45,143.70 L52.71,143.05 L52.98,142.40 L53.24,141.75 L53.51,141.11 L53.78,140.46 L54.06,139.81 L54.33,139.17 L54.61,138.53 L54.89,137.89 L55.17,137.25 L55.46,136.61 L55.75,135.97 L56.04,135.33 L56.33,134.69 L56.63,134.06 L56.93,133.43 L57.23,132.79 L57.54,132.16 L57.84,131.53 L58.15,130.91 L58.47,130.28 L58.78,129.66 L59.10,129.03 L59.43,128.41 L59.75,127.79 L60.08,127.17 L60.41,126.55 L60.75,125.94 L61.08,125.32 L61.42,124.71 L61.77,124.10 L62.12,123.49 L62.47,122.89 L62.82,122.28 L63.18,121.68 L63.54,121.08 L63.90,120.48 L64.26,119.88 L64.63,119.29 L65.01,118.69 L65.38,118.10 L65.76,117.51 L66.14,116.93 L66.53,116.34 L66.92,115.76 L67.31,115.18 L67.70,114.60 L68.10,114.02 L68.50,113.45 L68.91,112.88 L69.32,112.31 L69.73,111.74 L70.14,111.17 L70.56,110.61 L70.98,110.05 L71.40,109.49 L71.83,108.94 L72.26,108.38 L72.69,107.83 L73.13,107.28 L73.56,106.74 L74.01,106.20 L74.45,105.65 L74.90,105.12 L75.35,104.58 L75.81,104.05 L76.26,103.52 L76.72,102.99 L77.19,102.46 L77.65,101.94 L78.12,101.42 L78.59,100.90 L79.07,100.39 L79.55,99.88 L80.03,99.37 L80.51,98.86 L81.00,98.36 L81.49,97.86 L81.98,97.36 L82.48,96.86 L82.98,96.37 L83.48,95.88 L83.98,95.40 L84.49,94.91 L85.00,94.43 L85.51,93.95 L86.03,93.48 L86.54,93.01 L87.06,92.54 L87.59,92.07 L88.11,91.61 L88.64,91.15 L89.17,90.69 L89.71,90.24 L90.24,89.79 L90.78,89.34 L91.32,88.90 L91.87,88.45 L92.41,88.02 L92.96,87.58 L93.51,87.15 L94.07,86.72 L94.62,86.29 L95.18,85.87 L95.74,85.45 L96.30,85.03 L96.87,84.61 L97.43,84.20 L98.00,83.79 L98.57,83.39 L99.15,82.98 L99.72,82.58 L100.30,82.19 L100.88,81.79 L101.46,81.40 L102.04,81.01 L102.63,80.63 L103.21,80.25 L103.80,79.87 L104.39,79.49 L104.98,79.11 L105.58,78.74 L106.17,78.37 L106.77,78.01 L107.37,77.64 L107.97,77.28 L108.57,76.92 L109.17,76.57 L109.78,76.22 L110.39,75.87 L110.99,75.52 L111.60,75.17 L112.22,74.83 L112.83,74.49 L113.44,74.15 L114.06,73.82 L114.67,73.48 L115.29,73.15 L115.91,72.82 L116.53,72.50 L117.15,72.17 L117.77,71.85 L118.40,71.53 L119.02,71.22 L119.65,70.90 L120.27,70.59 L120.90,70.28 L121.53,69.97 L122.16,69.67 L122.79,69.36 L123.43,69.06 L124.06,68.76 L124.69,68.46 L125.33,68.17 L125.96,67.88 L126.60,67.58 L127.24,67.29 L127.88,67.01 L128.52,66.72 L129.16,66.44 L129.80,66.16 L130.44,65.88 L131.08,65.60 L131.73,65.32 L132.37,65.05 L133.02,64.77 L133.66,64.50 L134.31,64.23 L134.96,63.97 L135.61,63.70 L136.25,63.44 L136.90,63.17 L137.55,62.91 L138.20,62.65 L138.86,62.40 L139.51,62.14 L140.16,61.88 L140.81,61.63 L141.47,61.38 L142.12,61.13 L142.78,60.88 L143.43,60.64 L144.09,60.39 L144.75,60.15 L145.40,59.90 L146.06,59.66 L146.72,59.42 L147.38,59.18 L148.04,58.95 L148.70,58.71 L149.36,58.48 L150.02,58.24 L150.68,58.01 L151.34,57.78 L152.00,57.55 L152.66,57.33 L153.33,57.10 L153.99,56.87 L154.65,56.65 L155.32,56.43 L155.98,56.21 L156.65,55.99 L157.31,55.77 L157.98,55.55 L158.65,55.33 L159.31,55.12 L159.98,54.90 L160.65,54.69 L161.31,54.48 L161.98,54.27 L162.65,54.06 L163.32,53.85 L163.99,53.64 L164.66,53.43 L165.33,53.23 L166.00,53.02 L166.67,52.82 L167.34,52.62 L168.01,52.42 L168.68,52.22 L169.35,52.02 L170.02,51.82 L170.70,51.62 L171.37,51.43 L172.04,51.23 L172.71,51.04 L173.39,50.84 L174.06,50.65 L174.73,50.46 L175.41,50.27 L176.08,50.08 L176.76,49.89 L177.43,49.70 L178.11,49.51 L178.78,49.33 L179.46,49.14 L180.13,48.96 L180.81,48.77 L181.49,48.59 L182.16,48.41 L182.84,48.23 L183.52,48.05 L184.19,47.87 L184.87,47.69 L185.55,47.51 L186.23,47.33 L186.90,47.16 L187.58,46.98 L188.26,46.81 L188.94,46.63 L189.62,46.46 L190.30,46.29 L190.98,46.11 L191.65,45.94 L192.33,45.77 L193.01,45.60 L193.69,45.43 L194.37,45.27 L195.05,45.10 L195.73,44.93 L196.42,44.77 L197.10,44.60 L197.78,44.44 L198.46,44.27 L199.14,44.11 L199.82,43.95 L200.50,43.78 L201.18,43.62 L201.87,43.46 L202.55,43.30 L203.23,43.14 L203.91,42.98 L204.59,42.83 L205.28,42.67 L205.96,42.51 L206.64,42.36 L207.33,42.20 L208.01,42.05 L208.69,41.89 L209.38,41.74 L210.06,41.58 L210.74,41.43 L211.43,41.28 L212.11,41.13 L212.79,40.98 L213.48,40.83 L214.16,40.68 L214.85,40.53 L215.53,40.38 L216.22,40.23 L216.90,40.08 L217.59,39.94 L218.27,39.79 L218.96,39.64 L219.64,39.50 L220.33,39.35 L221.01,39.21 L221.70,39.07 L222.38,38.92 L223.07,38.78 L223.76,38.64 L224.44,38.50 L225.13,38.36 L225.81,38.22 L226.50,38.08 L227.19,37.94 L227.87,37.80 L228.56,37.66 L229.25,37.52 L229.93,37.38 L230.62,37.24 L231.31,37.11 L232.00,36.97 L232.68,36.84 L233.37,36.70 L234.06,36.57 L234.74,36.43 L235.43,36.30 L236.12,36.16 L236.81,36.03 L237.50,35.90 L238.18,35.77 L238.87,35.63 L239.56,35.50 L240.25,35.37 L240.94,35.24 L241.62,35.11 L242.31,34.98 L243.00,34.85 L243.69,34.72 L244.38,34.60 L245.07,34.47 L245.76,34.34 L246.45,34.21 L247.13,34.09 L247.82,33.96 L248.51,33.83 L249.20,33.71 L249.89,33.58 L250.58,33.46 L251.27,33.33 L251.96,33.21 L252.65,33.09 L253.34,32.96 L254.03,32.84 L254.72,32.72 L255.41,32.60 L256.10,32.48 L256.79,32.35 L257.48,32.23 L258.17,32.11 L258.86,31.99 L259.55,31.87 L260.24,31.75 L260.93,31.63 L261.62,31.52 L262.31,31.40 L263.00,31.28 L263.69,31.16 L264.38,31.04 L265.07,30.93 L265.76,30.81 L266.45,30.69 L267.14,30.58 L267.83,30.46 L268.53,30.35 L269.22,30.23 L269.91,30.12 L270.60,30.00 L271.29,29.89 L271.98,29.77 L272.67,29.66 L273.36,29.55 L274.06,29.44 L274.75,29.32 L275.44,29.21 L276.13,29.10 L276.82,28.99 L277.51,28.88 L278.20,28.77 L278.90,28.66 L279.59,28.55 L280.28,28.44 L280.97,28.33 L281.66,28.22 L282.36,28.11 L283.05,28.00 L283.74,27.89 L284.43,27.78 L285.12,27.67 L285.82,27.57 L286.51,27.46 L287.20,27.35 L287.89,27.25 L288.59,27.14 L289.28,27.03 L289.97,26.93 L290.66,26.82 L291.36,26.72 L292.05,26.61 L292.74,26.51 L293.43,26.40 L294.13,26.30 L294.82,26.19 L295.51,26.09 L296.20,25.99 L296.90,25.88 L297.59,25.78 L298.28,25.68 L298.98,25.58 L299.67,25.47 L300.36,25.37 L301.06,25.27 L301.75,25.17 L302.44,25.07 L303.13,24.97 L303.83,24.87 L304.52,24.77 L305.21,24.67 L305.91,24.57 L306.60,24.47 L307.30,24.37 L307.99,24.27 L308.68,24.17 L309.38,24.07 L310.07,23.97 L310.76,23.87 L311.46,23.78 L312.15,23.68 L312.84,23.58 L313.54,23.48 L314.23,23.39 L314.93,23.29 L315.62,23.19 L316.31,23.10 L317.01,23.00 L317.70,22.91 L318.39,22.81 L319.09,22.71 L319.78,22.62 L320.48,22.52 L321.17,22.43 L321.86,22.34 L322.56,22.24 L323.25,22.15 L323.95,22.05 L324.64,21.96 L325.34,21.87 L326.03,21.77 L326.72,21.68 L327.42,21.59 L328.11,21.49 L328.81,21.40 L329.50,21.31 L330.20,21.22 L330.89,21.13 L331.59,21.04 L332.28,20.94 L332.97,20.85 L333.67,20.76 L334.36,20.67 L335.06,20.58 L335.75,20.49 L336.45,20.40 L337.14,20.31 L337.84,20.22 L338.53,20.13 L339.23,20.04 L339.92,19.95 L340.62,19.86 L341.31,19.78 L342.01,19.69 L342.70,19.60 L343.40,19.51 L344.09,19.42 L344.79,19.34 L345.48,19.25 L346.18,19.16 L346.87,19.07 L347.57,18.99 L348.26,18.90 L348.96,18.81 L349.65,18.73 L350.35,18.64 L351.04,18.55 L351.74,18.47 L352.43,18.38 L353.13,18.30 L353.82,18.21 L354.52,18.13 L355.21,18.04 L355.91,17.96 L356.60,17.87 L357.30,17.79 L358.00,17.70 L358.69,17.62 L359.39,17.53 L360.08,17.45 L360.78,17.37 L361.47,17.28 L362.17,17.20 L362.86,17.12 L363.56,17.03 L364.26,16.95 L364.95,16.87 L365.65,16.79 L366.34,16.70 L367.04,16.62 L367.73,16.54 L368.43,16.46 L369.13,16.38 L369.82,16.30 L370.52,16.21 L371.21,16.13 L371.91,16.05 L372.60,15.97 L373.30,15.89 L374.00,15.81 L374.69,15.73 L375.39,15.65 L376.08,15.57 L376.78,15.49 L377.48,15.41 L378.17,15.33 L378.87,15.25 L379.56,15.17 L380.26,15.09 L380.96,15.01 L381.65,14.93 L382.35,14.86 L383.04,14.78 L383.74,14.70 L384.44,14.62 L385.13,14.54 L385.83,14.46 L386.52,14.39 L387.22,14.31 L387.92,14.23 L388.61,14.15 L389.31,14.08 L390.01,14.00 L390.70,13.92 L391.40,13.85 L392.09,13.77 L392.79,13.69 L393.49,13.62 L394.18,13.54" stroke="#222" stroke-width="1.2"/>
</g>
<path d="M34.30,226.4 v-2.6 M34.30,0.4 v2.6 M50.31,226.4 v-1.5 M50.31,0.4 v1.5 M66.33,226.4 v-1.5 M66.33,0.4 v1.5 M82.34,226.4 v-1.5 M82.34,0.4 v1.5 M98.36,226.4 v-1.5 M98.36,0.4 v1.5 M114.37,226.4 v-2.6 M114.37,0.4 v2.6 M130.38,226.4 v-1.5 M130.38,0.4 v1.5 M146.40,226.4 v-1.5 M146.40,0.4 v1.5 M162.41,226.4 v-1.5 M162.41,0.4 v1.5 M178.43,226.4 v-1.5 M178.43,0.4 v1.5 M194.44,226.4 v-2.6 M194.44,0.4 v2.6 M210.45,226.4 v-1.5 M210.45,0.4 v1.5 M226.47,226.4 v-1.5 M226.47,0.4 v1.5 M242.48,226.4 v-1.5 M242.48,0.4 v1.5 M258.50,226.4 v-1.5 M258.50,0.4 v1.5 M274.51,226.4 v-2.6 M274.51,0.4 v2.6 M290.52,226.4 v-1.5 M290.52,0.4 v1.5 M306.54,226.4 v-1.5 M306.54,0.4 v1.5 M322.55,226.4 v-1.5 M322.55,0.4 v1.5 M338.57,226.4 v-1.5 M338.57,0.4 v1.5 M354.58,226.4 v-2.6 M354.58,0.4 v2.6 M370.59,226.4 v-1.5 M370.59,0.4 v1.5 M386.61,226.4 v-1.5 M386.61,0.4 v1.5 M27.2,223.52 h1.8 M394.2,223.52 h-1.9000000000000001 M27.2,215.00 h2.6 M394.2,215.00 h-2.7 M27.2,206.48 h1.8 M394.2,206.48 h-1.9000000000000001 M27.2,197.96 h1.8 M394.2,197.96 h-1.9000000000000001 M27.2,189.43 h1.8 M394.2,189.43 h-1.9000000000000001 M27.2,180.91 h2.6 M394.2,180.91 h-2.7 M27.2,172.39 h1.8 M394.2,172.39 h-1.9000000000000001 M27.2,163.87 h1.8 M394.2,163.87 h-1.9000000000000001 M27.2,155.34 h1.8 M394.2,155.34 h-1.9000000000000001 M27.2,146.82 h2.6 M394.2,146.82 h-2.7 M27.2,138.30 h1.8 M394.2,138.30 h-1.9000000000000001 M27.2,129.78 h1.8 M394.2,129.78 h-1.9000000000000001 M27.2,121.25 h1.8 M394.2,121.25 h-1.9000000000000001 M27.2,112.73 h2.6 M394.2,112.73 h-2.7 M27.2,104.21 h1.8 M394.2,104.21 h-1.9000000000000001 M27.2,95.69 h1.8 M394.2,95.69 h-1.9000000000000001 M27.2,87.16 h1.8 M394.2,87.16 h-1.9000000000000001 M27.2,78.64 h2.6 M394.2,78.64 h-2.7 M27.2,70.12 h1.8 M394.2,70.12 h-1.9000000000000001 M27.2,61.59 h1.8 M394.2,61.59 h-1.9000000000000001 M27.2,53.07 h1.8 M394.2,53.07 h-1.9000000000000001 M27.2,44.55 h2.6 M394.2,44.55 h-2.7 M27.2,36.03 h1.8 M394.2,36.03 h-1.9000000000000001 M27.2,27.51 h1.8 M394.2,27.51 h-1.9000000000000001 M27.2,18.98 h1.8 M394.2,18.98 h-1.9000000000000001 M27.2,10.46 h2.6 M394.2,10.46 h-2.7 M27.2,1.94 h1.8 M394.2,1.94 h-1.9000000000000001" stroke="#777" stroke-width="0.8" fill="none"/>
<rect x="26.4" y="0" width="1.7" height="226.9" fill="#666"/>
<rect x="26.4" y="225.9" width="368.6" height="1" fill="#333"/>
<rect x="26.4" y="0" width="368.6" height="0.75" fill="#606060"/>
<rect x="393.15" y="0" width="1.85" height="226.9" fill="#8a8a8a"/>
<g class="tl"><text transform="translate(34.3,235.6) scale(0.927,1)" text-anchor="middle">0.000</text><text transform="translate(114.4,235.6) scale(0.927,1)" text-anchor="middle">0.005</text><text transform="translate(194.4,235.6) scale(0.927,1)" text-anchor="middle">0.010</text><text transform="translate(274.5,235.6) scale(0.927,1)" text-anchor="middle">0.015</text><text transform="translate(354.6,235.6) scale(0.927,1)" text-anchor="middle">0.020</text><text transform="translate(25.2,218.3) scale(0.927,1)" text-anchor="end">0</text><text transform="translate(25.2,184.2) scale(0.927,1)" text-anchor="end">20</text><text transform="translate(25.2,150.1) scale(0.927,1)" text-anchor="end">40</text><text transform="translate(25.2,116.0) scale(0.927,1)" text-anchor="end">60</text><text transform="translate(25.2,81.9) scale(0.927,1)" text-anchor="end">80</text><text transform="translate(25.2,47.9) scale(0.927,1)" text-anchor="end">100</text><text transform="translate(25.2,13.8) scale(0.927,1)" text-anchor="end">120</text>
<text x="210.6" y="247.8" text-anchor="middle" font-style="italic" style="font-size:7.4px">ε</text>
<g transform="translate(7.1,132.5) rotate(-90)" style="font-size:7.8px"><text x="0" y="0" textLength="12.6" lengthAdjust="spacingAndGlyphs"><tspan font-style="italic">σ</tspan>(<tspan font-style="italic">ε</tspan>)</text><text x="19.6" y="0" textLength="20.1" lengthAdjust="spacingAndGlyphs">[MPa]</text></g>
</g>
<g class="lg">
<g fill="#7a7a7a"><circle cx="221.2" cy="131.1" r="2.8"/><circle cx="231.7" cy="131.1" r="2.8"/><circle cx="242.7" cy="131.1" r="2.8"/><circle cx="253.6" cy="131.1" r="2.8"/><circle cx="264.5" cy="131.1" r="2.8"/></g>
<path d="M220.2,146.9 H266.5" stroke="#555" stroke-width="1.6" stroke-dasharray="3.6 1.1" fill="none"/>
<path d="M222.2,164.5 H265.5" stroke="#ff9a3c" stroke-width="1.7" stroke-dasharray="0.01 5.33" stroke-linecap="round" fill="none"/>
<path d="M219.2,179.6 H266.7" stroke="#777" stroke-width="1.4" fill="none"/>
<path d="M217.8,196.4 H266.1" stroke="#f00" stroke-width="1.3" fill="none"/>
<text x="275.3" y="134.5">Experimental data</text>
<text x="275.3" y="150.8">Hollomon</text>
<text x="275.3" y="167.7">Ramberg–Osgood</text>
<text x="275.3" y="182.8">Mendiguren et al.</text>
<text x="275.3" y="199.5">Proposed model</text>
</g>
</svg>
</body></html>
